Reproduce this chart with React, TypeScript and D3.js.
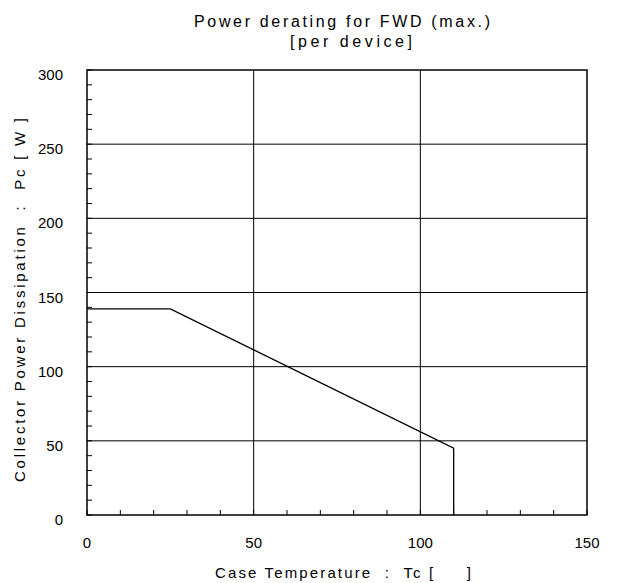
import React from "react";
import * as d3 from "d3";

const tempC = [0, 25, 110, 110];
const powerW = [139, 139, 45, 0];
const xTicks = [0, 50, 100, 150];
const yTicks = [0, 50, 100, 150, 200, 250, 300];
const xGrid = [50, 100];
const yGrid = [50, 100, 150, 200, 250];
const minorStep = 10;

const W = 618;
const H = 583;
const M = { left: 87, right: 587, top: 70, bottom: 515 };

export default function App() {
  const x = d3.scaleLinear().domain([0, 150]).range([M.left, M.right]);
  const y = d3.scaleLinear().domain([0, 300]).range([M.bottom, M.top]);
  const line = d3
    .line<number>()
    .x((_, i) => x(tempC[i]))
    .y((d) => y(d));
  const xMinor = d3.range(0, 150 + 0.001, minorStep);
  const yMinor = d3.range(0, 300 + 0.001, minorStep);
  const titleFont = "'Liberation Sans', Arial, sans-serif";
  return (
    <svg
      width={W}
      height={H}
      style={{ position: "absolute", left: 0, top: 0, background: "#fff" }}
    >
      <rect x={0} y={0} width={W} height={H} fill="#fff" />
      {/* grid */}
      {xGrid.map((v) => (
        <line key={"gx" + v} x1={x(v)} x2={x(v)} y1={M.top} y2={M.bottom} stroke="#000" strokeWidth={1} />
      ))}
      {yGrid.map((v) => (
        <line key={"gy" + v} x1={M.left} x2={M.right} y1={y(v)} y2={y(v)} stroke="#000" strokeWidth={1} />
      ))}
      {/* minor ticks */}
      {xMinor.map((v) => (
        <line key={"mx" + v} x1={x(v)} x2={x(v)} y1={M.bottom} y2={M.bottom - 5} stroke="#000" strokeWidth={1} />
      ))}
      {yMinor.map((v) => (
        <line key={"my" + v} x1={M.left} x2={M.left + 5} y1={y(v)} y2={y(v)} stroke="#000" strokeWidth={1} />
      ))}
      {/* frame */}
      <rect
        x={M.left}
        y={M.top}
        width={M.right - M.left}
        height={M.bottom - M.top}
        fill="none"
        stroke="#000"
        strokeWidth={1.5}
      />
      {/* data */}
      <path d={line(powerW) || ""} fill="none" stroke="#000" strokeWidth={1.3} />
      {/* tick labels */}
      {xTicks.map((v) => (
        <text
          key={"xl" + v}
          x={x(v)}
          y={548}
          textAnchor="middle"
          fontFamily="'Liberation Sans', Arial, sans-serif"
          fontSize={15}
          fill="#000"
        >
          {v}
        </text>
      ))}
      {yTicks.map((v) => (
        <text
          key={"yl" + v}
          x={63}
          y={y(v) + 10}
          textAnchor="end"
          fontFamily="'Liberation Sans', Arial, sans-serif"
          fontSize={15}
          fill="#000"
        >
          {v}
        </text>
      ))}
      {/* titles */}
      <text x={194} y={27} fontFamily={titleFont} fontSize={16} textLength={296} lengthAdjust="spacing" fill="#000">
        Power derating for FWD (max.)
      </text>
      <text x={290} y={47} fontFamily={titleFont} fontSize={16} textLength={122} lengthAdjust="spacing" fill="#000">
        [per device]
      </text>
      <text
        x={215}
        y={578}
        fontFamily={titleFont}
        fontSize={15}
        textLength={256}
        lengthAdjust="spacing"
        fill="#000"
        style={{ whiteSpace: "pre" }}
      >
        {"Case Temperature  :  Tc [     ]"}
      </text>
      <text
        transform={`translate(25,482) rotate(-90)`}
        x={0}
        y={0}
        fontFamily={titleFont}
        fontSize={15}
        textLength={364}
        lengthAdjust="spacing"
        fill="#000"
        style={{ whiteSpace: "pre" }}
      >
        {"Collector Power Dissipation  :  Pc [ W ]"}
      </text>
    </svg>
  );
}
